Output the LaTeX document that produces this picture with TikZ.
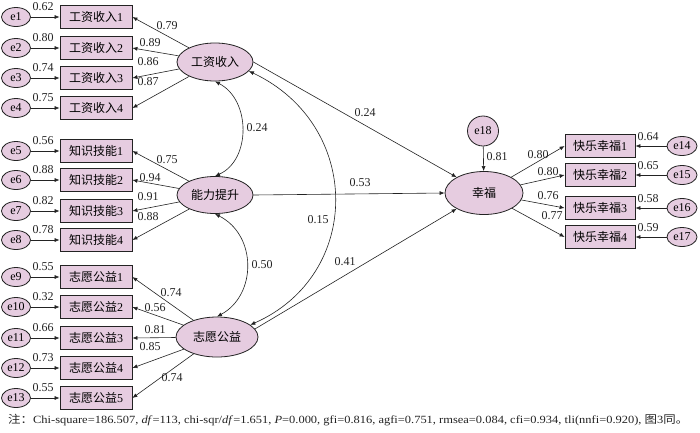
\documentclass[tikz,border=0pt]{standalone}
\usepackage{fontspec}
\usepackage{graphicx}
\setmainfont{Liberation Serif}
\newfontfamily\cjk{Noto Sans CJK SC}
\usetikzlibrary{arrows.meta,shapes.geometric}
\definecolor{lav}{RGB}{230,204,224}
\definecolor{ln}{RGB}{35,35,35}
\begin{document}
\begin{tikzpicture}[x=1pt,y=-1pt,
 box/.style={draw=ln,fill=lav,line width=0.8pt,minimum width=72pt,minimum height=23pt,inner sep=0pt,font=\fontsize{12}{12}\selectfont},
 err/.style={draw=ln,fill=lav,ellipse,line width=0.8pt,minimum width=29pt,minimum height=19pt,inner sep=0pt,font=\fontsize{12}{12}\selectfont},
 lat/.style={draw=ln,fill=lav,ellipse,line width=0.8pt,inner sep=0pt,font=\fontsize{12}{12}\selectfont},
 arr/.style={-{Latex[length=5pt,width=4pt]},line width=0.6pt,draw=ln},
 darr/.style={{Latex[length=5pt,width=4pt]}-{Latex[length=5pt,width=4pt]},line width=0.6pt,draw=ln},
 num/.style={font=\fontsize{12}{12}\selectfont,inner sep=0pt,text=ln}]
\fill[white] (0,0) rectangle (700,432);
\useasboundingbox (0,0) rectangle (700,432);

% latent variables
\node[lat,minimum width=76pt,minimum height=38pt] (lat1) at (215,62) {\cjk 工资收入};
\node[lat,minimum width=76pt,minimum height=37pt] (lat2) at (215,195) {\cjk 能力提升};
\node[lat,minimum width=82pt,minimum height=40pt] (lat3) at (217,337) {\cjk 志愿公益};
\node[lat,minimum width=78pt,minimum height=43pt] (hap) at (484,193) {\cjk 幸福};
\node[err,minimum width=31pt,minimum height=30pt] (e18) at (483,131) {e18};

% indicators: income
\foreach \i/\y/\v in {1/17/0.62,2/48/0.80,3/78/0.74,4/108/0.75} {
  \node[err] (e\i) at (16,\y) {e\i};
  \node[box] (a\i) at (96,\y) {{\cjk 工资收入}\i};
  \draw[arr] (e\i) -- (a\i);
  \node[num] at (43,\y-10) {\v};
  \draw[arr] (lat1) -- (a\i.east);
}
% indicators: skills
\foreach \i/\j/\y/\v in {5/1/151/0.56,6/2/180/0.88,7/3/211/0.82,8/4/240/0.78} {
  \node[err] (e\i) at (16,\y) {e\i};
  \node[box] (k\j) at (96,\y) {{\cjk 知识技能}\j};
  \draw[arr] (e\i) -- (k\j);
  \node[num] at (43,\y-10) {\v};
  \draw[arr] (lat2) -- (k\j.east);
}
% indicators: volunteering
\foreach \i/\j/\y/\v in {9/1/277/0.55,10/2/307/0.32,11/3/338/0.66,12/4/368/0.73,13/5/398/0.55} {
  \node[err] (e\i) at (16,\y) {e\i};
  \node[box] (v\j) at (96,\y) {{\cjk 志愿公益}\j};
  \draw[arr] (e\i) -- (v\j);
  \node[num] at (43,\y-10) {\v};
  \draw[arr] (lat3) -- (v\j.east);
}
% indicators: happiness
\foreach \i/\j/\y/\v in {14/1/146/0.64,15/2/175/0.65,16/3/208/0.58,17/4/237/0.59} {
  \node[err,minimum width=30pt] (e\i) at (682,\y) {e\i};
  \node[box,minimum width=70pt] (h\j) at (600,\y) {{\cjk 快乐幸福}\j};
  \draw[arr] (e\i) -- (h\j);
  \node[num] at (648,\y-9) {\v};
  \draw[arr] (hap) -- (h\j.west);
}

% loading labels
\node[num] at (167,26) {0.79};
\node[num] at (150,43) {0.89};
\node[num] at (148,62) {0.86};
\node[num] at (148,82) {0.87};
\node[num] at (167,160) {0.75};
\node[num] at (150,178) {0.94};
\node[num] at (148,197) {0.91};
\node[num] at (148,217) {0.88};
\node[num] at (171,293) {0.74};
\node[num] at (155,308) {0.56};
\node[num] at (155,330) {0.81};
\node[num] at (150,347) {0.85};
\node[num] at (172,378) {0.74};
\node[num] at (538,155) {0.80};
\node[num] at (548,172) {0.80};
\node[num] at (548,196) {0.76};
\node[num] at (552,216) {0.77};

% disturbance
\draw[arr] (e18) -- (hap);
\node[num] at (497,157) {0.81};

% structural paths
\draw[arr] (lat1.east) -- (hap.150);
\draw[arr] (lat2.east) -- (hap.west);
\draw[arr] (lat3.12) -- (hap.-150);
\node[num] at (365,113) {0.24};
\node[num] at (360,183) {0.53};
\node[num] at (345,262) {0.41};

% correlations
\draw[darr] (lat1.south) .. controls (251,100) and (251,160) .. (lat2.north);
\draw[darr] (lat2.south) .. controls (257,235) and (257,295) .. (lat3.north);
\draw[darr] (lat1.-15) .. controls (363,125) and (363,275) .. (lat3.20);
\node[num] at (257,128) {0.24};
\node[num] at (262,265) {0.50};
\node[num] at (318,220) {0.15};

% note
\node[anchor=west,inner sep=0pt,text=ln] (note) at (8,420) {\resizebox{680pt}{\height}{\fontsize{11}{11}\selectfont{\cjk 注：}Chi-square=186.507, \textit{df}=113, chi-sqr/\textit{df}=1.651, \textit{P}=0.000, gfi=0.816, agfi=0.751, rmsea=0.084, cfi=0.934, tli(nnfi=0.920), {\cjk 图}3{\cjk 同。}}};
\end{tikzpicture}
\end{document}
